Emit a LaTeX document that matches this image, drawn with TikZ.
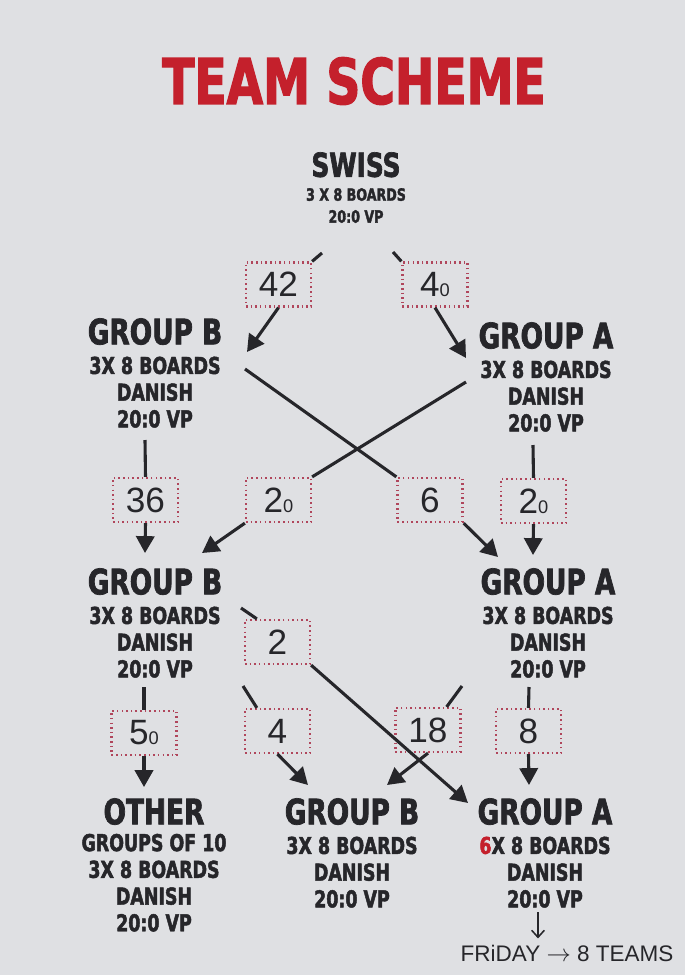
\documentclass[tikz,border=0pt]{standalone}
\usepackage{fontspec}
\usepackage{tikz}
\usetikzlibrary{arrows.meta,positioning}

\newfontfamily\posterfont{DejaVu Sans}[FakeStretch=0.75,FakeBold=2]
\newfontfamily\handfont{Liberation Sans}

\definecolor{paper}{RGB}{223,224,227}
\definecolor{ink}{RGB}{38,38,42}
\definecolor{titlered}{RGB}{196,32,44}
\definecolor{dotred}{RGB}{176,70,92}

\newcommand{\groupsize}{\fontsize{25}{25}\selectfont}
\newcommand{\detailsize}{\fontsize{16.5}{19}\selectfont}
\newcommand{\smallo}{{\fontsize{13}{13}\selectfont 0}}

\begin{document}
\begin{tikzpicture}[
    x=0.025cm, y=-0.025cm,
    group/.style={
        font=\posterfont\bfseries\detailsize,
        text=ink,
        align=center,
        inner sep=0pt,
        anchor=north
    },
    countbox/.style={
        draw=dotred,
        line width=1.6pt,
        dash pattern=on 1.1pt off 2.2pt,
        minimum width=1.625cm,
        minimum height=1.1cm,
        inner sep=0pt,
        font=\handfont\fontsize{25}{25}\selectfont,
        text=ink
    },
    linkaux/.style={ink, line width=2.2pt},
    arrowaux/.style={ink, line width=2.2pt, -{Triangle[length=12pt,width=13pt]}},
    handaux/.style={ink, line width=1.1pt, -{Straight Barb[length=5pt,width=9pt]}}
]

% paper
\fill[paper] (0,0) rectangle (685,975);
\useasboundingbox (0,0) rectangle (685,975);

% title
\node[font=\posterfont\bfseries\fontsize{44.7}{44.7}\selectfont, text=titlered,
      inner sep=0pt, anchor=north] (title) at (354,57) {TEAM SCHEME};

% swiss stage
\node[group, font=\posterfont\bfseries\fontsize{12}{15.6}\selectfont] (swiss) at (356,152)
{{\fontsize{23.5}{23.5}\selectfont SWISS}\\[1.4pt] 3 X 8 BOARDS\\ 20:0 VP};

% first round of groups
\node[group] (gB1) at (155,318)
{{\groupsize GROUP B}\\[2pt] 3X 8 BOARDS\\ DANISH\\ 20:0 VP};

\node[group] (gA1) at (546,322)
{{\groupsize GROUP A}\\[2pt] 3X 8 BOARDS\\ DANISH\\ 20:0 VP};

% second round of groups
\node[group] (gB2) at (155,568)
{{\groupsize GROUP B}\\[2pt] 3X 8 BOARDS\\ DANISH\\ 20:0 VP};

\node[group] (gA2) at (548,568)
{{\groupsize GROUP A}\\[2pt] 3X 8 BOARDS\\ DANISH\\ 20:0 VP};

% final groups
\node[group] (other) at (154,798)
{{\groupsize OTHER}\\ GROUPS OF 10\\ 3X 8 BOARDS\\ DANISH\\ 20:0 VP};

\node[group] (gB3) at (352,798)
{{\groupsize GROUP B}\\[2pt] 3X 8 BOARDS\\ DANISH\\ 20:0 VP};

\node[group] (gA3) at (545,798)
{{\groupsize GROUP A}\\[2pt] \textcolor{titlered}{6}X 8 BOARDS\\ DANISH\\ 20:0 VP};

% handwritten note
\node[font=\handfont\fontsize{16}{16}\selectfont, text=ink, inner sep=0pt] (friday) at (567,953)
{FRiDAY $\rightarrow$ 8 TEAMS};

% team counts
\node[countbox] (b42) at (278.5,284.5) {42};
\node[countbox] (b40) at (435,284.5) {4\smallo};

\node[countbox] (b36) at (145.5,500) {36};
\node[countbox] (b20l) at (278.5,500) {2\smallo};
\node[countbox] (b6) at (430,500) {6};
\node[countbox] (b20r) at (533.5,501) {2\smallo};

\node[countbox] (b2) at (277.5,642) {2};

\node[countbox] (b50) at (144,733) {5\smallo};
\node[countbox] (b4) at (277.5,731) {4};
\node[countbox] (b18) at (428,730) {18};
\node[countbox] (b8) at (528.5,731) {8};

% swiss -> first groups
\draw[linkaux] ([shift={(-34,101)}]swiss.north) -- (b42.north east);
\draw[arrowaux] (b42.south) -- ([shift={(92,34)}]gB1.north);
\draw[linkaux] ([shift={(37,100)}]swiss.north) -- (b40.north west);
\draw[arrowaux] (b40.south) -- ([shift={(-80,36)}]gA1.north);

% first groups -> second groups
\draw[linkaux] ([shift={(-10,122)}]gB1.north) -- (b36.north);
\draw[arrowaux] (b36.south) -- ([shift={(-10,-15)}]gB2.north);
\draw[linkaux] ([shift={(90,51)}]gB1.north) -- (b6.north west);
\draw[arrowaux] (b6.south east) -- ([shift={(-50,-11)}]gA2.north);
\draw[linkaux] ([shift={(-80,60)}]gA1.north) -- (b20l.north east);
\draw[arrowaux] (b20l.south west) -- ([shift={(47,-15)}]gB2.north);
\draw[linkaux] ([shift={(-13,123)}]gA1.north) -- (b20r.north);
\draw[arrowaux] (b20r.south) -- ([shift={(-15,-13)}]gA2.north);

% second groups -> final groups
\draw[linkaux] ([shift={(86,40)}]gB2.north) -- ([shift={(13,0)}]b2.north west);
\draw[arrowaux] (b2.south east) -- ([shift={(-77,5)}]gA3.north);
\draw[linkaux] ([shift={(-11,119)}]gB2.north) -- (b50.north);
\draw[arrowaux] (b50.south) -- ([shift={(-10,-11)}]other.north);
\draw[linkaux] ([shift={(88,118)}]gB2.north) -- ([shift={(13,0)}]b4.north west);
\draw[arrowaux] (b4.south) -- ([shift={(-44,-13)}]gB3.north);
\draw[linkaux] ([shift={(-86,118)}]gA2.north) -- ([shift={(-15,0)}]b18.north east);
\draw[arrowaux] (b18.south) -- ([shift={(35,-13)}]gB3.north);
\draw[linkaux] ([shift={(-19,119)}]gA2.north) -- (b8.north);
\draw[arrowaux] (b8.south) -- ([shift={(-16,-13)}]gA3.north);

% friday
\draw[handaux] ([shift={(-7,114)}]gA3.north) -- ([shift={(-29,-6)}]friday.north);

\end{tikzpicture}
\end{document}
